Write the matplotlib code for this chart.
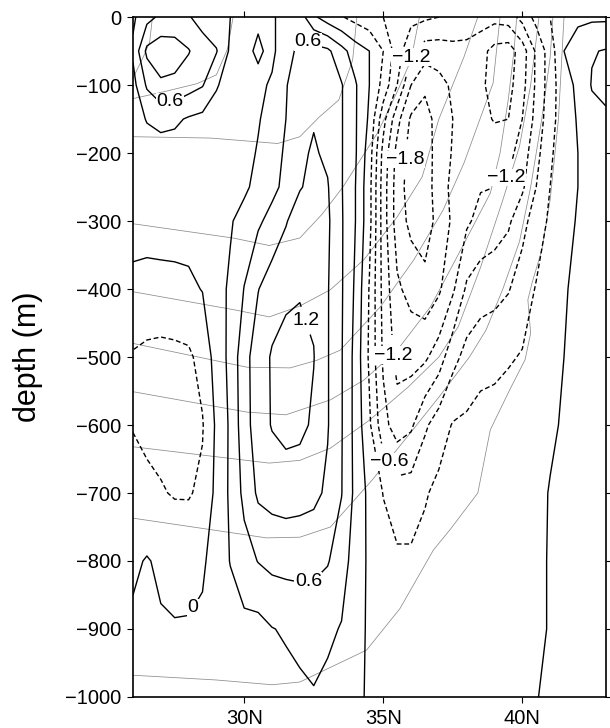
import numpy as np
import matplotlib
matplotlib.use('Agg')
import matplotlib.pyplot as plt

plt.rcParams['font.family'] = ['Liberation Sans', 'DejaVu Sans']

# grid of the streamfunction section
lat = [26.0, 26.5, 27.0, 27.5, 28.0, 28.5, 29.0, 29.5, 30.0, 30.5, 31.0, 31.5,
       32.0, 32.5, 33.0, 33.5, 34.0, 34.5, 35.0, 35.5, 36.0, 36.5, 37.0, 37.5,
       38.0, 38.5, 39.0, 39.5, 40.0, 40.5, 41.0, 41.5, 42.0, 42.5, 43.0]
depth = [0, -50, -100, -150, -200, -250, -300, -400, -500, -600, -700, -800, -900, -1000]

psi_0 = [0.25, 0.50, 0.66, 0.68, 0.62, 0.50, 0.40, 0.30, 0.25, 0.27, 0.28, 0.36,
         0.45, 0.05, -0.15, -0.28, -0.40, -0.50, -0.60, -0.70, -0.80, -0.85, -0.90, -0.95,
         -1.00, -1.05, -1.10, -1.05, -0.80, -0.50, -0.30, -0.15, -0.05, -0.05, -0.05]
psi_50 = [0.35, 0.97, 1.08, 1.05, 0.92, 0.72, 0.62, 0.25, 0.25, 0.33, 0.25, 0.45,
          0.70, 0.72, 0.66, 0.40, 0.15, 0.0, -0.30, -0.75, -1.15, -1.35, -1.35, -1.30,
          -1.30, -1.40, -1.60, -1.65, -1.35, -0.85, -0.45, 0.0, 0.12, 0.28, 0.32]
psi_100 = [0.20, 0.64, 0.85, 0.82, 0.72, 0.62, 0.32, 0.20, 0.22, 0.25, 0.33, 0.58,
           0.78, 0.82, 0.75, 0.62, 0.33, 0.0, -0.40, -0.90, -1.50, -1.75, -1.60, -1.45,
           -1.40, -1.45, -1.60, -1.60, -1.30, -0.85, -0.45, -0.10, 0.05, 0.32, 0.38]
psi_150 = [0.15, 0.32, 0.38, 0.35, 0.27, 0.22, 0.20, 0.18, 0.20, 0.28, 0.40, 0.60,
           0.82, 0.88, 0.80, 0.62, 0.33, -0.05, -0.80, -1.40, -1.85, -1.90, -1.70, -1.50,
           -1.40, -1.42, -1.52, -1.50, -1.20, -0.80, -0.42, -0.12, 0.02, 0.20, 0.25]
psi_200 = [0.10, 0.15, 0.18, 0.18, 0.17, 0.17, 0.17, 0.20, 0.22, 0.32, 0.45, 0.65,
           0.85, 0.93, 0.85, 0.62, 0.33, -0.15, -1.00, -1.60, -1.92, -1.97, -1.65, -1.48,
           -1.35, -1.30, -1.35, -1.30, -1.05, -0.70, -0.35, -0.12, 0.0, 0.08, 0.10]
psi_250 = [0.08, 0.10, 0.12, 0.14, 0.15, 0.16, 0.18, 0.22, 0.24, 0.40, 0.52, 0.68,
           0.88, 0.98, 0.92, 0.62, 0.30, -0.20, -1.05, -1.65, -1.95, -2.00, -1.60, -1.45,
           -1.30, -1.22, -1.20, -1.15, -0.95, -0.60, -0.30, -0.12, 0.0, 0.05, 0.05]
psi_300 = [0.06, 0.07, 0.08, 0.09, 0.10, 0.12, 0.15, 0.27, 0.42, 0.55, 0.70, 0.88,
           1.05, 1.10, 0.95, 0.63, 0.30, -0.20, -1.05, -1.65, -1.88, -1.95, -1.70, -1.45,
           -1.25, -1.10, -1.05, -0.95, -0.70, -0.45, -0.25, -0.08, 0.02, 0.05, 0.05]
psi_400 = [-0.04, -0.06, -0.06, -0.06, -0.05, 0.01, 0.18, 0.35, 0.61, 0.89, 1.05, 1.12,
           1.17, 1.15, 0.92, 0.63, 0.25, -0.32, -1.00, -1.45, -1.60, -1.70, -1.55, -1.25,
           -0.85, -0.75, -0.70, -0.62, -0.45, -0.28, -0.15, -0.02, 0.05, 0.05, 0.05]
psi_500 = [-0.33, -0.38, -0.40, -0.38, -0.35, -0.20, 0.12, 0.38, 0.80, 1.05, 1.23, 1.33,
           1.32, 1.21, 0.92, 0.62, 0.20, -0.35, -0.95, -1.30, -1.30, -1.25, -1.05, -0.70,
           -0.50, -0.40, -0.38, -0.33, -0.28, -0.20, -0.10, 0.0, 0.05, 0.05, 0.05]
psi_600 = [-0.31, -0.35, -0.38, -0.40, -0.38, -0.32, 0.05, 0.35, 0.78, 1.05, 1.22, 1.30,
           1.28, 1.15, 0.92, 0.62, 0.20, -0.25, -0.80, -1.05, -0.95, -0.65, -0.45, -0.28,
           -0.25, -0.20, -0.18, -0.15, -0.12, -0.08, -0.03, 0.02, 0.05, 0.05, 0.05]
psi_700 = [-0.22, -0.25, -0.28, -0.32, -0.32, -0.25, 0.08, 0.35, 0.68, 0.95, 1.00, 1.02,
           1.00, 0.97, 0.85, 0.61, 0.22, -0.08, -0.31, -0.45, -0.45, -0.33, -0.22, -0.20,
           -0.15, -0.12, -0.10, -0.10, -0.08, -0.05, 0.01, 0.03, 0.05, 0.05, 0.05]
psi_800 = [-0.05, 0.02, -0.05, -0.10, -0.12, -0.05, 0.15, 0.31, 0.48, 0.61, 0.68, 0.70,
           0.70, 0.68, 0.62, 0.45, 0.15, -0.05, -0.18, -0.25, -0.25, -0.20, -0.15, -0.12,
           -0.10, -0.10, -0.08, -0.08, -0.06, -0.03, 0.01, 0.04, 0.05, 0.05, 0.05]
psi_900 = [0.05, 0.05, 0.03, 0.02, 0.03, 0.06, 0.12, 0.18, 0.22, 0.20, 0.29, 0.33,
           0.38, 0.40, 0.36, 0.28, 0.12, -0.05, -0.10, -0.12, -0.12, -0.10, -0.10, -0.10,
           -0.10, -0.08, -0.08, -0.08, -0.06, -0.03, 0.01, 0.04, 0.05, 0.05, 0.05]
psi_1000 = [0.05, 0.05, 0.05, 0.06, 0.07, 0.08, 0.10, 0.12, 0.15, 0.17, 0.19, 0.21,
            0.24, 0.28, 0.22, 0.15, 0.05, -0.03, -0.08, -0.08, -0.08, -0.08, -0.08, -0.08,
            -0.08, -0.08, -0.08, -0.07, -0.05, -0.01, 0.05, 0.05, 0.05, 0.05, 0.05]

# labelled and unlabelled contour levels
pos_lab = [0, 0.6, 1.2]
pos_unl = [0.3, 0.9]
neg_lab = [-1.8, -1.2, -0.6]
neg_unl = [-2.1, -1.5, -0.9, -0.3]

# isopycnals (thin grey lines): latitude / depth pairs
iso0_lat = [26.0, 26.4, 26.6, 26.7]
iso0_dep = [-90, -56, -37, 0]
iso1_lat = [26.0, 27.1, 28.3, 29.0, 29.4, 29.6]
iso1_dep = [-120, -110, -98, -85, -47, 0]
iso2_lat = [26.0, 28.8, 31.2, 32.0, 32.7, 33.4, 33.9, 34.05]
iso2_dep = [-176, -178, -186, -176, -147, -122, -63, 0]
iso3_lat = [26.0, 29.6, 30.9, 32.0, 32.8, 33.55, 34.8, 35.5, 36.0, 36.3]
iso3_dep = [-304, -325, -336, -325, -290, -250, -170, -110, -63, 0]
iso4_lat = [26.0, 29.7, 30.9, 32.0, 33.1, 34.3, 35.5, 36.4, 37.0, 37.9, 38.4]
iso4_dep = [-404, -431, -441, -425, -401, -357, -294, -235, -150, -59, 0]
iso5_lat = [26.0, 30.1, 31.65, 32.6, 33.45, 34.9, 36.1, 37.15, 37.9, 38.3, 38.95, 39.2]
iso5_dep = [-480, -515, -516, -505, -490, -426, -357, -284, -215, -170, -97, 0]
iso6_lat = [26.0, 30.1, 31.5, 33.1, 34.3, 35.5, 36.7, 37.65, 38.85, 39.2, 39.5, 39.7, 39.8]
iso6_dep = [-551, -581, -585, -563, -534, -490, -426, -353, -259, -200, -120, -50, 0]
iso7_lat = [26.0, 30.9, 32.0, 33.1, 34.5, 35.9, 37.0, 37.7, 38.5, 39.3, 39.9, 40.3, 40.6]
iso7_dep = [-632, -656, -652, -634, -593, -544, -500, -455, -368, -269, -190, -100, 0]
iso8_lat = [26.0, 30.8, 32.0, 33.1, 34.6, 35.85, 37.0, 38.1, 38.7, 39.3, 39.9, 40.3, 40.7, 41.0, 41.1]
iso8_dep = [-737, -766, -765, -750, -681, -618, -559, -500, -460, -400, -330, -250, -150, -60, 0]
iso9_lat = [26.0, 29.0, 31.0, 32.0, 34.4, 35.6, 36.8, 37.4, 38.4, 38.85, 39.55, 40.1,
            40.3, 40.2, 40.35, 40.7, 41.0, 41.3, 41.5]
iso9_dep = [-968, -975, -982, -978, -931, -870, -784, -754, -700, -607, -548, -504,
            -465, -416, -391, -343, -269, -150, 0]

psi = np.array([psi_0, psi_50, psi_100, psi_150, psi_200, psi_250, psi_300,
                psi_400, psi_500, psi_600, psi_700, psi_800, psi_900, psi_1000])

fig = plt.figure(figsize=(6.1, 7.28), dpi=100)
ax = fig.add_axes([0.218, 0.0426, 0.775, 0.934])

isos = [(iso0_lat, iso0_dep), (iso1_lat, iso1_dep), (iso2_lat, iso2_dep),
        (iso3_lat, iso3_dep), (iso4_lat, iso4_dep), (iso5_lat, iso5_dep),
        (iso6_lat, iso6_dep), (iso7_lat, iso7_dep), (iso8_lat, iso8_dep),
        (iso9_lat, iso9_dep)]
for x, y in isos:
    ax.plot(x, y, color='0.55', lw=0.55, zorder=1)

dash = [(0, (3.5, 2.0))]
ax.contour(lat, depth, psi, levels=pos_unl, colors='k', linewidths=1.0,
           linestyles='solid', zorder=2)
ax.contour(lat, depth, psi, levels=neg_unl, colors='k', linewidths=1.0,
           linestyles=dash, zorder=2)
cs_pos = ax.contour(lat, depth, psi, levels=pos_lab, colors='k',
                    linewidths=1.0, linestyles='solid', zorder=2)
cs_neg = ax.contour(lat, depth, psi, levels=neg_lab, colors='k',
                    linewidths=1.0, linestyles=dash, zorder=2)


def fmt(v):
    if abs(v) < 1e-9:
        return '0'
    return ('%.1f' % v).replace('-', '\u2212')


labs = ax.clabel(cs_pos, fmt=fmt, fontsize=14, inline=True, inline_spacing=1,
                 manual=[(27.3, -115), (32.3, -35), (32.3, -828), (28.4, -875), (32.4, -444)])
labs += ax.clabel(cs_neg, fmt=fmt, fontsize=14, inline=True, inline_spacing=1,
                  manual=[(36.1, -60), (36.1, -210), (39.5, -240), (35.5, -497), (35.5, -647)])
for t in labs:
    t.set_rotation(0)
    t.set_zorder(3)
    t.set_bbox(dict(facecolor='white', edgecolor='none', pad=0.3))

ax.set_xlim(26, 43)
ax.set_ylim(-1000, 0)
ax.set_xticks([30, 35, 40])
ax.set_xticklabels(['30N', '35N', '40N'])
ax.set_yticks([0, -100, -200, -300, -400, -500, -600, -700, -800, -900, -1000])
ax.tick_params(direction='out', length=4.5, width=0.8, top=True, right=True,
               labeltop=False, labelright=False, labelsize=14.5, pad=4)
for s in ax.spines.values():
    s.set_linewidth(1.2)

ax.set_ylabel('depth (m)', fontsize=22)
ax.yaxis.set_label_coords(-0.19, 0.5)

plt.savefig('out.png', dpi=100)
